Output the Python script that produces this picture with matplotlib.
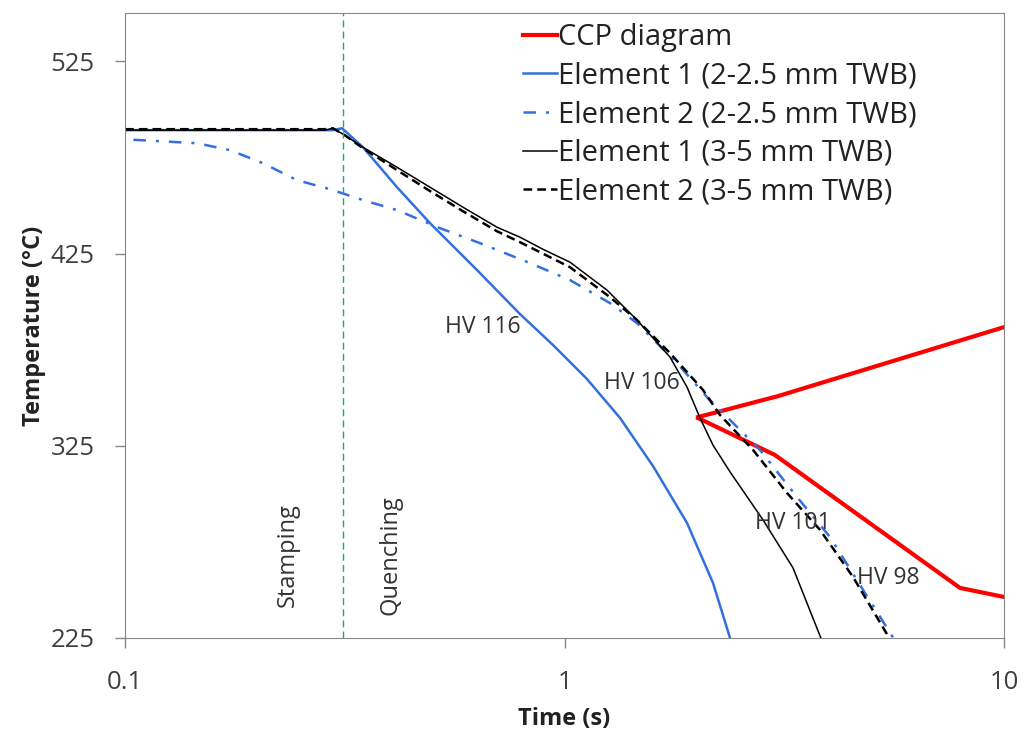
import matplotlib
matplotlib.use("Agg")
import matplotlib.pyplot as plt

plt.rcParams['font.family'] = ['Open Sans', 'DejaVu Sans']

# CCP diagram (two branches from the same start point)
ccp_up_t = [2.013, 3.06, 10.0]
ccp_up_T = [339.9, 350.8, 386.7]
ccp_lo_t = [2.013, 3.01, 7.94, 10.0]
ccp_lo_T = [339.4, 320.2, 251.0, 246.3]

# Element 1 (2-2.5 mm TWB)
e1a_t = [0.1, 0.297, 0.3117, 0.3479, 0.4158, 0.4943, 0.6323, 0.792, 0.9414, 1.125,
         1.338, 1.59, 1.90, 2.177, 2.38]
e1a_T = [489.2, 489.2, 490.2, 480.3, 459.5, 440.8, 416.4, 393.5, 377.4, 359.7,
         339.4, 314.4, 284.8, 253.6, 225.0]

# Element 2 (2-2.5 mm TWB)
e2a_t = [0.1045, 0.1458, 0.1734, 0.206, 0.246, 0.2926, 0.3479, 0.4158, 0.5208, 0.6423,
         0.8347, 1.029, 1.269, 1.462, 1.803, 2.11, 2.785, 3.381, 4.018, 4.778, 5.60]
e2a_T = [484.2, 482.4, 478.8, 472.0, 463.2, 458.5, 452.8, 447.6, 438.2, 430.4,
         420.0, 411.2, 399.2, 388.8, 368.0, 350.3, 322.8, 298.3, 277.5, 250.0, 225.0]

# Element 1 (3-5 mm TWB)
e1b_t = [0.1, 0.285, 0.297, 0.316, 0.3479, 0.4158, 0.4943, 0.5875, 0.702, 0.792,
         0.8935, 1.029, 1.249, 1.462, 1.738, 1.90, 2.034, 2.177, 2.38, 2.829, 3.311, 3.83]
e1b_T = [489.2, 489.2, 490.2, 486.6, 480.3, 469.9, 459.5, 449.1, 438.7, 433.5,
         427.2, 420.5, 406.0, 390.4, 371.1, 355.5, 339.4, 325.3, 311.4, 286.4, 261.4, 225.0]

# Element 2 (3-5 mm TWB)
e2b_t = [0.1, 0.285, 0.297, 0.316, 0.3479, 0.4158, 0.4943, 0.5875, 0.702, 0.792,
         1.029, 1.269, 1.462, 1.738, 2.066, 2.258, 2.685, 3.208, 3.814, 4.534, 5.48]
e2b_T = [489.7, 489.7, 490.2, 486.6, 479.8, 468.4, 457.5, 447.0, 436.6, 430.9,
         417.9, 402.3, 390.4, 373.2, 354.0, 341.0, 322.8, 300.4, 281.2, 256.7, 225.0]

hv_labels = ["HV 116", "HV 106", "HV 101", "HV 98"]
hv_t = [0.651, 1.50, 3.31, 5.44]
hv_T = [386.7, 357.6, 284.8, 256.2]

t_stamp = 0.313

blue = "#3370DD"
txt = "#333333"
fig = plt.figure(figsize=(10.25, 7.4), dpi=100)
ax = fig.add_axes([0.122, 0.138, 0.8575, 0.844])

ax.semilogx(ccp_up_t, ccp_up_T, color="#FF0000", lw=3.0, label="CCP diagram")
ax.semilogx(ccp_lo_t, ccp_lo_T, color="#FF0000", lw=3.0)
ax.semilogx(e1a_t, e1a_T, color=blue, lw=1.8, label="Element 1 (2-2.5 mm TWB)")
ax.semilogx(e2a_t, e2a_T, color=blue, lw=1.8, ls=(0, (5, 4, 1.2, 4)),
            label="Element 2 (2-2.5 mm TWB)")
ax.semilogx(e1b_t, e1b_T, color="black", lw=1.1, label="Element 1 (3-5 mm TWB)")
ax.semilogx(e2b_t, e2b_T, color="black", lw=1.8, ls=(0, (3.5, 2)),
            label="Element 2 (3-5 mm TWB)")

ax.axvline(t_stamp, color="#1EA396", lw=1.0, ls=(0, (5, 3)))

ax.text(0.2349, 268, "Stamping", rotation=90, fontsize=17, color=txt,
        ha="center", va="center")
ax.text(0.401, 268, "Quenching", rotation=90, fontsize=17, color=txt,
        ha="center", va="center")
for lab, x, y in zip(hv_labels, hv_t, hv_T):
    ax.text(x, y, lab, fontsize=16.5, color=txt, ha="center", va="center")

ax.set_xlim(0.1, 10)
ax.set_ylim(225, 550)
ax.set_xticks([0.1, 1, 10])
ax.set_xticklabels(["0.1", "1", "10"])
ax.minorticks_off()
ax.set_yticks([225, 325, 425, 525])
ax.tick_params(axis="both", labelsize=18.5, colors="#888888", labelcolor="#404040",
               length=7, width=1)
ax.tick_params(axis="x", pad=16)
ax.tick_params(axis="y", pad=15)
for s in ax.spines.values():
    s.set_color("#888888")

ax.set_xlabel("Time (s)", fontsize=17, fontweight="bold", labelpad=9, color="#222222")
ax.set_ylabel("Temperature (°C)", fontsize=17, fontweight="bold", labelpad=3,
              color="#222222")

ax.legend(loc="upper left", bbox_to_anchor=(0.5102, 0.969), bbox_transform=fig.transFigure,
          frameon=False, fontsize=21, handlelength=1.16, handletextpad=0.03,
          labelspacing=0.33, borderaxespad=0, borderpad=0, labelcolor="#222222")

fig.savefig("out.png", dpi=100)
